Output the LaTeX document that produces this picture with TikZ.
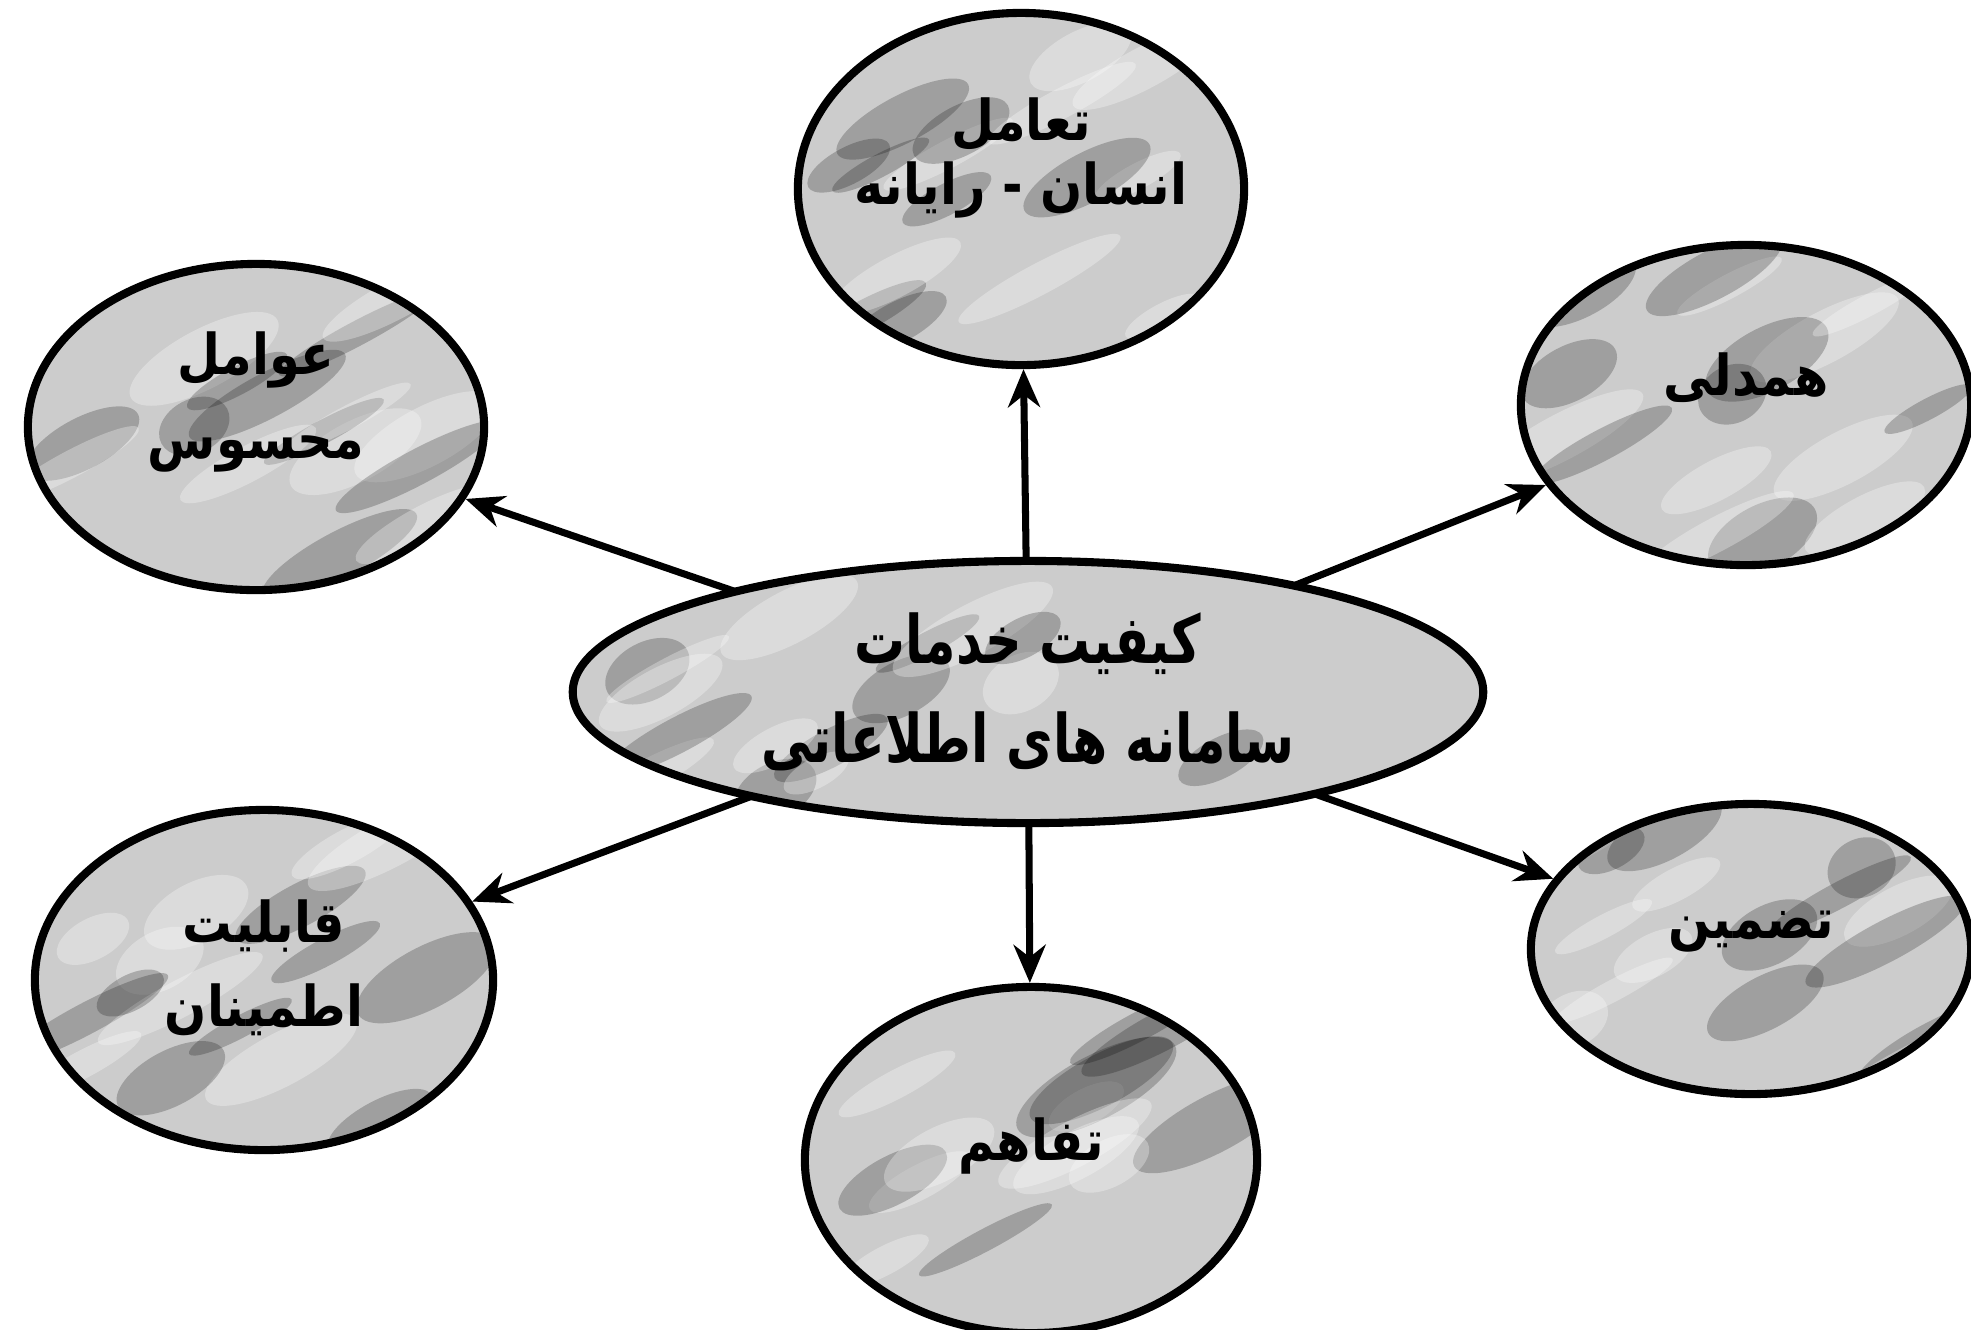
\documentclass[tikz,border=0pt]{standalone}
\usepackage{fontspec}
\newfontfamily\arabicfont[Script=Arabic,FakeStretch=0.88]{DejaVu Sans}
\newfontfamily\arabicnarrow[Script=Arabic,FakeStretch=0.76]{DejaVu Sans}
\TeXXeTstate=1
\usetikzlibrary{shapes.geometric,arrows.meta,calc}
\tikzset{
  bubble/.style={ellipse, draw=black, line width=2.3pt, fill=gray!40, inner sep=0pt,
    path picture={
      \pgfmathsetseed{#1}
      \foreach \i in {1,...,16}{
        \pgfmathsetmacro\px{0.08+0.84*rnd}
        \pgfmathsetmacro\py{0.08+0.84*rnd}
        \pgfmathsetmacro\rx{0.35+0.6*rnd}
        \pgfmathsetmacro\ry{0.10+0.22*rnd}
        \pgfmathsetmacro\sh{mod(\i,2)==0 ? 1 : 0}
        \coordinate (pA) at ($(path picture bounding box.south west)!\px!(path picture bounding box.south east)$);
        \coordinate (pB) at ($(path picture bounding box.south west)!\py!(path picture bounding box.north west)$);
        \ifdim\sh pt>0.5pt
          \fill[black, opacity=0.22] (pA |- pB) circle[x radius=\rx cm, y radius=\ry cm, rotate=28];
        \else
          \fill[white, opacity=0.30] (pA |- pB) circle[x radius=\rx cm, y radius=\ry cm, rotate=28];
        \fi
      }
    }},
  label text/.style={font=\arabicfont\bfseries\fontsize{16}{24}\selectfont, align=center, text=black, inner sep=0pt},
  link/.style={line width=2pt, -{Stealth[length=0.38cm,width=0.32cm]}, shorten <=-2pt}
}
\begin{document}
\begin{tikzpicture}[x=0.01cm,y=-0.01cm]
\useasboundingbox (0,0) rectangle (1971,1329);
\fill[white] (0,0) rectangle (1971,1329);
\node[bubble=11, minimum width=4.46cm, minimum height=3.52cm] (t) at (1021,189) {};
\node[bubble=23, minimum width=4.50cm, minimum height=3.20cm] (rt) at (1746,405) {};
\node[bubble=37, minimum width=4.56cm, minimum height=3.26cm] (lt) at (256,427) {};
\node[bubble=41, minimum width=4.58cm, minimum height=3.40cm] (lb) at (264,980) {};
\node[bubble=53, minimum width=4.40cm, minimum height=2.90cm] (rb) at (1751,949) {};
\node[bubble=67, minimum width=4.52cm, minimum height=3.46cm] (b) at (1031,1160) {};
\coordinate (cc) at (1028,692);
\draw[link] (cc) -- (t);
\draw[link] (cc) -- (rt);
\draw[link] (cc) -- (lt);
\draw[link] (cc) -- (lb);
\draw[link] (cc) -- (rb);
\draw[link] (cc) -- (b);
\node[bubble=79, minimum width=9.10cm, minimum height=2.62cm] (c) at (cc) {};
\node[label text, font=\arabicfont\bfseries\fontsize{16}{18}\selectfont] (tT) at (1021,158) {\beginR تعامل\endR\\\beginR انسان - رایانه\endR};
\node[label text] (rtT) at (1746,378) {\beginR همدلی\endR};
\node[label text] (ltT) at (256,402) {\beginR عوامل\endR\\\beginR محسوس\endR};
\node[label text] (lbT) at (264,968) {\beginR قابلیت\endR\\\beginR اطمینان\endR};
\node[label text] (rbT) at (1751,932) {\beginR تضمین\endR};
\node[label text] (bT) at (1031,1146) {\beginR تفاهم\endR};
\node[label text, font=\arabicnarrow\bfseries\fontsize{19}{28}\selectfont] (cT) at (1028,692) {\beginR کیفیت خدمات\endR\\\beginR سامانه های اطلاعاتی\endR};
\end{tikzpicture}
\end{document}
